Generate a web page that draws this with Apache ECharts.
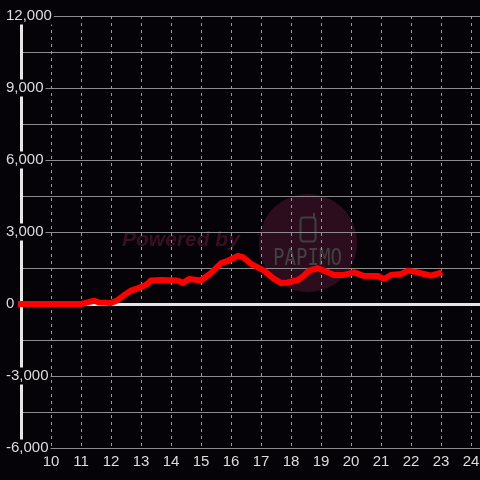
<!DOCTYPE html>
<html>
<head>
<meta charset="utf-8">
<script src="https://cdn.jsdelivr.net/npm/echarts@6/dist/echarts.min.js"></script>
<style>
  html, body { margin: 0; padding: 0; background: #050307; }
  #main { width: 480px; height: 480px; }
</style>
</head>
<body>
<div id="main"></div>
<script>
// hours of the day (x) and value (y)
var hours = [9.0, 11.0, 11.2, 11.43, 11.6, 12.0, 12.2, 12.5, 12.67, 13.0, 13.2, 13.33, 13.67,
  14.2, 14.4, 14.6, 15.0, 15.33, 15.67, 15.9, 16.23, 16.4, 16.67, 17.1, 17.4, 17.67, 17.9,
  18.23, 18.4, 18.6, 18.9, 19.17, 19.43, 19.77, 20.1, 20.4, 20.9, 21.1, 21.33, 21.67, 21.9,
  22.1, 22.43, 22.67, 22.95];
var values = [0, 0, 60, 140, 60, 40, 150, 420, 560, 700, 820, 980, 1000,
  980, 880, 1040, 980, 1290, 1700, 1800, 2000, 1950, 1670, 1390, 1080, 870, 900,
  1000, 1150, 1390, 1490, 1350, 1210, 1210, 1320, 1180, 1170, 1040, 1210, 1250, 1390,
  1350, 1250, 1180, 1280];

var yMin = -6000, yMax = 12000;
var xMin = 9, xMax = 24.3;

var pts = [];
for (var i = 0; i < hours.length; i++) {
  pts.push([hours[i], values[i]]);
}

var chart = echarts.init(document.getElementById('main'));
var labelFont = 'Liberation Sans, Arial, sans-serif';

var option = {
  backgroundColor: '#050307',
  animation: false,
  grid: { left: 21, right: 0, top: 16, bottom: 32, outerBoundsMode: 'none', containLabel: false },
  // watermark
  graphic: [
    {
      type: 'circle', z: -5,
      shape: { cx: 308, cy: 243, r: 49 },
      style: { fill: '#2c0d1e' }
    },
    {
      type: 'rect', z: -4,
      shape: { x: 300.5, y: 217.5, width: 15, height: 24, r: 3 },
      style: { fill: 'none', stroke: '#3e3e3e', lineWidth: 2 }
    },
    {
      type: 'line', z: -4,
      shape: { x1: 314, y1: 213, x2: 314, y2: 219 },
      style: { stroke: '#3e3e3e', lineWidth: 2 }
    },
    {
      type: 'text', z: -4, x: 273, y: 248, scaleX: 0.83,
      style: { text: 'PAPIMO', fill: '#414141', font: '23px DejaVu Sans Mono' }
    },
    {
      type: 'text', z: -4, x: 122, y: 230,
      style: { text: 'Powered by', fill: '#3a0f22', font: 'italic bold 21px Liberation Sans' }
    }
  ],
  xAxis: [
    {
      type: 'value', min: xMin, max: xMax, interval: 1,
      axisLine: { show: false },
      axisTick: { show: false },
      axisLabel: {
        color: '#dddddd', fontSize: 15, fontFamily: labelFont, margin: 6,
        formatter: function (v) { return (v >= 10 && v % 1 === 0) ? String(v) : ''; }
      },
      splitLine: { show: true, lineStyle: { color: '#9a9a9a', width: 1, type: [3, 4] } }
    },
    {
      // thick zero line
      type: 'value', min: xMin, max: xMax, interval: 1, position: 'bottom',
      axisLine: { show: true, onZero: true, lineStyle: { color: '#e6e6e6', width: 3 } },
      axisTick: { show: false },
      axisLabel: { show: false },
      splitLine: { show: false }
    }
  ],
  yAxis: [
    {
      type: 'value', min: yMin, max: yMax, interval: 1500, position: 'left',
      axisLine: { show: false },
      axisTick: { show: false },
      axisLabel: { show: false },
      splitLine: { show: true, lineStyle: { color: '#8c8c8c', width: 1 } }
    },
    {
      type: 'value', min: yMin, max: yMax, interval: 3000, z: 5, position: 'left',
      axisLine: { show: true, onZero: false, lineStyle: { color: '#e6e6e6', width: 3 } },
      axisTick: { show: false },
      splitLine: { show: false },
      axisLabel: {
        color: '#dddddd', fontSize: 15, fontFamily: labelFont,
        align: 'left', margin: 15,
        backgroundColor: '#050307', padding: [1, 2, 1, 0],
        formatter: function (v) { return echarts.format.addCommas(v); }
      }
    }
  ],
  series: [
    {
      type: 'line', z: 10,
      xAxisIndex: 0, yAxisIndex: 0,
      data: pts,
      showSymbol: false,
      lineStyle: { color: '#ff0000', width: 6, cap: 'square', join: 'round' }
    }
  ]
};

chart.setOption(option);
</script>
</body>
</html>
